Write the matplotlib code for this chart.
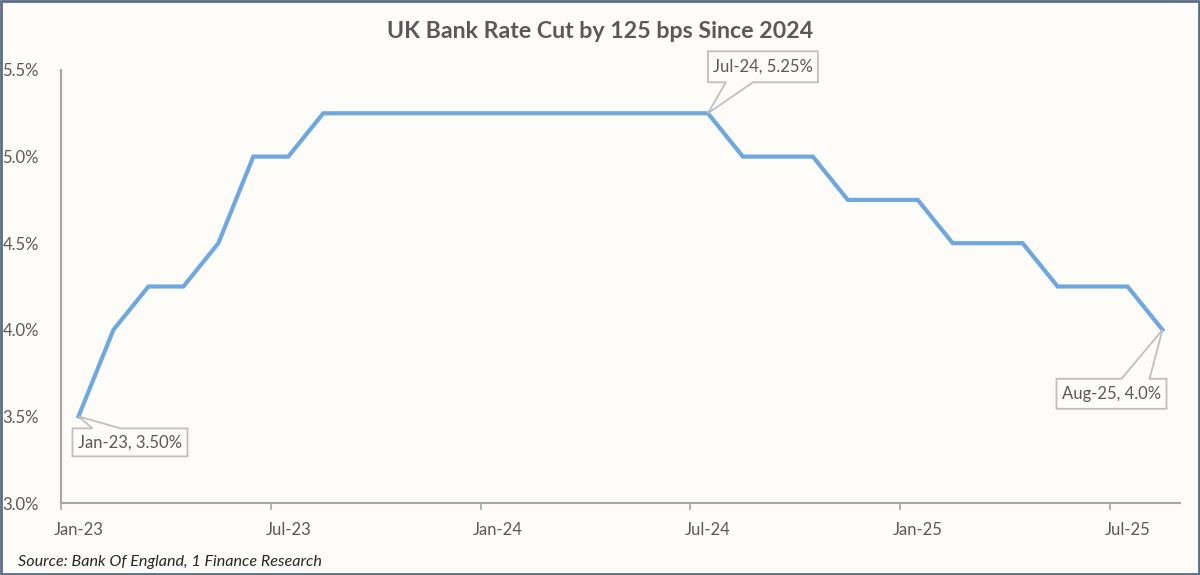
import numpy as np
import matplotlib
matplotlib.use("Agg")
import matplotlib.pyplot as plt
from matplotlib.patches import Polygon

plt.rcParams['font.family'] = ['Lato', 'DejaVu Sans']

months = ["Jan-23", "Feb-23", "Mar-23", "Apr-23", "May-23", "Jun-23", "Jul-23", "Aug-23",
          "Sep-23", "Oct-23", "Nov-23", "Dec-23", "Jan-24", "Feb-24", "Mar-24", "Apr-24",
          "May-24", "Jun-24", "Jul-24", "Aug-24", "Sep-24", "Oct-24", "Nov-24", "Dec-24",
          "Jan-25", "Feb-25", "Mar-25", "Apr-25", "May-25", "Jun-25", "Jul-25", "Aug-25"]
rate = [3.50, 4.00, 4.25, 4.25, 4.50, 5.00, 5.00, 5.25,
        5.25, 5.25, 5.25, 5.25, 5.25, 5.25, 5.25, 5.25,
        5.25, 5.25, 5.25, 5.00, 5.00, 5.00, 4.75, 4.75,
        4.75, 4.50, 4.50, 4.50, 4.25, 4.25, 4.25, 4.00]
tick_labels = ["Jan-23", "Jul-23", "Jan-24", "Jul-24", "Jan-25", "Jul-25"]
y_ticks = [3.0, 3.5, 4.0, 4.5, 5.0, 5.5]

# callouts: (month, text, box left/right/top/bottom, wedge a/b) offsets in px, y down
callouts = [
    ("Jan-23", "Jan-23, 3.50%", (-6, 109, 12, 40), "top", (14, 42)),
    ("Jul-24", "Jul-24, 5.25%", (0, 110, -62, -31), "bottom", (18, 45)),
    ("Aug-25", "Aug-25, 4.0%", (-106, 4, 49, 79), "top", (-41, -13)),
]

bg = "#FDFCF8"
txt_col = "#595959"
axis_col = "#A6A6A6"

x = np.arange(len(months))

fig = plt.figure(figsize=(12, 5.75), dpi=100, facecolor=bg)
ax = fig.add_axes([61 / 1200, 1 - 503 / 575, (1180 - 61) / 1200, (503 - 70) / 575])
ax.set_facecolor(bg)

ax.plot(x, rate, color="#6FA8DC", linewidth=3, solid_joinstyle="miter", zorder=3)

ax.set_xlim(-0.5, len(months) - 0.5)
ax.set_ylim(3.0, 5.5)
ax.set_yticks(y_ticks)
ax.set_yticklabels([f"{v:.1f}%" for v in y_ticks])
lab_pos = [months.index(m) for m in tick_labels]
ax.set_xticks(lab_pos)
ax.set_xticklabels(tick_labels)
ax.set_xticks([p - 0.5 for p in lab_pos], minor=True)
ax.tick_params(axis="x", which="major", length=0, pad=14, labelsize=12, labelcolor=txt_col)
ax.tick_params(axis="x", which="minor", length=5, width=1.2, color=axis_col, direction="out")
ax.tick_params(axis="y", length=0, pad=16, labelsize=12, labelcolor=txt_col)

for s in ["top", "right"]:
    ax.spines[s].set_visible(False)
for s in ["left", "bottom"]:
    ax.spines[s].set_color(axis_col)
    ax.spines[s].set_linewidth(1.5)

fig.text(0.5, 1 - 32 / 575, "UK Bank Rate Cut by 125 bps Since 2024", ha="center", va="center",
         fontsize=16.7, fontweight="bold", color=txt_col)
fig.text(18 / 1200, 1 - 562 / 575, "Source: Bank Of England, 1 Finance Research", ha="left", va="center",
         fontsize=11.6, style="italic", color="#262626")

# callouts drawn in pixel space from the data point position
fig.canvas.draw()
for m, text, (l, r, t, b), side, (wa, wb) in callouts:
    px, py = ax.transData.transform((months.index(m), rate[months.index(m)]))
    if side == "top":
        pts = [(l, t), (wa, t), (0, 0), (wb, t), (r, t), (r, b), (l, b)]
    else:
        pts = [(l, t), (r, t), (r, b), (wb, b), (0, 0), (wa, b), (l, b)]
    verts = [(px + dx, py - dy) for dx, dy in pts]
    poly = Polygon(verts, closed=True, transform=None, facecolor=bg, edgecolor="#BFBFBF",
                   linewidth=1.3, zorder=5)
    fig.add_artist(poly)
    fig.text((px + (l + r) / 2) / 1200, (py - (t + b) / 2) / 575, text, ha="center", va="center",
             fontsize=12, color=txt_col, zorder=6)

# outer border
fig.add_artist(plt.Rectangle((0.001, 0.002), 0.998, 0.996, transform=fig.transFigure, fill=False,
                             edgecolor="#5B6E86", linewidth=2))

fig.savefig("out.png", dpi=100, facecolor=bg)
